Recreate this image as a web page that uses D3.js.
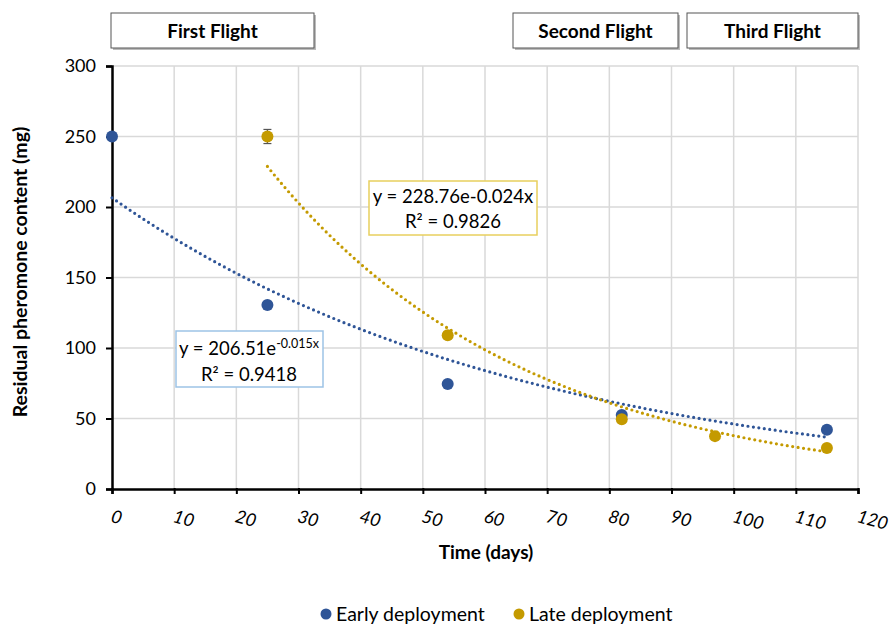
<!DOCTYPE html>
<html>
<head>
<meta charset="utf-8">
<script src="https://cdn.jsdelivr.net/npm/d3@7"></script>
<style>
  body { margin: 0; background: #fff; }
  text { font-family: Lato, "Open Sans", sans-serif; fill: #000; }
</style>
</head>
<body>
<script>
// Data
var earlyDays = [0, 25, 54, 82, 115];
var earlyMg   = [250, 130.5, 74.5, 52.5, 42];
var lateDays  = [25, 54, 82, 97, 115];
var lateMg    = [250, 109, 49.5, 37.5, 29];
var lateErr   = [5, 0, 0, 0, 0];

// Exponential trendlines as printed on the chart
var earlyFit = { a: 206.51, b: -0.015, start: 0 };
var lateFit  = { a: 228.76, b: -0.024, start: 25 };

var xTicks = [0, 10, 20, 30, 40, 50, 60, 70, 80, 90, 100, 110, 120];
var yTicks = [0, 50, 100, 150, 200, 250, 300];

var flights = [
  { label: 'First Flight',  x0: 111, x1: 314 },
  { label: 'Second Flight', x0: 513, x1: 678 },
  { label: 'Third Flight',  x0: 687, x1: 858 }
];

var blue = '#2F5597';
var gold = '#C49A00';

var width = 893, height = 626;
var svg = d3.select('body').append('svg')
  .attr('width', width)
  .attr('height', height);

var x = d3.scaleLinear().domain([0, 120]).range([112, 858]);
var y = d3.scaleLinear().domain([0, 300]).range([489, 66]);

// Grid
svg.append('g').selectAll('line').data(xTicks.slice(1)).enter().append('line')
  .attr('x1', d => x(d)).attr('x2', d => x(d))
  .attr('y1', y(0)).attr('y2', y(300))
  .attr('stroke', '#D9D9D9').attr('stroke-width', 1.5);
svg.append('g').selectAll('line').data(yTicks.slice(1)).enter().append('line')
  .attr('x1', x(0)).attr('x2', x(120))
  .attr('y1', d => y(d)).attr('y2', d => y(d))
  .attr('stroke', '#D9D9D9').attr('stroke-width', 1.5);

// Axes
var yAxis = svg.append('g')
  .attr('transform', 'translate(' + x(0) + ',0)')
  .call(d3.axisLeft(y).tickValues(yTicks).tickSize(6).tickPadding(10));
yAxis.select('.domain').attr('stroke', '#000').attr('stroke-width', 2.5);
yAxis.selectAll('.tick line').attr('stroke', '#000').attr('stroke-width', 2);
yAxis.selectAll('.tick text').style('font-size', '18px').style('font-family', 'Lato, sans-serif').attr('fill', '#000');

var xAxis = svg.append('g')
  .attr('transform', 'translate(0,' + y(0) + ')')
  .call(d3.axisBottom(x).tickValues(xTicks).tickSize(5).tickPadding(14));
xAxis.select('.domain').attr('stroke', '#000').attr('stroke-width', 2.5);
xAxis.selectAll('.tick line').attr('stroke', '#000').attr('stroke-width', 2).attr('y1', -1);
xAxis.selectAll('.tick text')
  .style('font-size', '18px').style('font-family', 'Lato, sans-serif')
  .style('font-style', 'italic').attr('fill', '#000')
  .attr('text-anchor', 'start')
  .attr('x', -1).attr('y', 33).attr('dy', 0)
  .attr('transform', 'rotate(15, -1, 27)');

// Axis titles
svg.append('text')
  .attr('x', 486).attr('y', 559)
  .attr('text-anchor', 'middle')
  .style('font-size', '19px').style('font-weight', 'bold')
  .text('Time (days)');
svg.append('text')
  .attr('transform', 'translate(27,272) rotate(-90)')
  .attr('text-anchor', 'middle')
  .style('font-size', '19.5px').style('font-weight', 'bold')
  .text('Residual pheromone content (mg)');

// Trendlines
function fitPoints(fit) {
  var pts = [];
  for (var t = fit.start; t <= 115; t += 1) {
    pts.push([t, fit.a * Math.exp(fit.b * (t - fit.start))]);
  }
  return pts;
}
var line = d3.line().x(d => x(d[0])).y(d => y(d[1])).curve(d3.curveMonotoneX);

svg.append('path').datum(fitPoints(earlyFit))
  .attr('d', line).attr('fill', 'none')
  .attr('stroke', blue).attr('stroke-width', 3.2)
  .attr('stroke-linecap', 'round').attr('stroke-dasharray', '0 5.5');
svg.append('path').datum(fitPoints(lateFit))
  .attr('d', line).attr('fill', 'none')
  .attr('stroke', gold).attr('stroke-width', 3.2)
  .attr('stroke-linecap', 'round').attr('stroke-dasharray', '0 5.5');

// Error bars
var lateData = lateDays.map((d, i) => ({ x: d, y: lateMg[i], e: lateErr[i] }));
var earlyData = earlyDays.map((d, i) => ({ x: d, y: earlyMg[i] }));

var eb = svg.append('g').selectAll('g').data(lateData.filter(d => d.e > 0)).enter().append('g')
  .attr('stroke', '#555').attr('stroke-width', 1.2);
eb.append('line').attr('x1', d => x(d.x)).attr('x2', d => x(d.x))
  .attr('y1', d => y(d.y + d.e)).attr('y2', d => y(d.y - d.e));
eb.append('line').attr('x1', d => x(d.x) - 4).attr('x2', d => x(d.x) + 4)
  .attr('y1', d => y(d.y + d.e)).attr('y2', d => y(d.y + d.e));
eb.append('line').attr('x1', d => x(d.x) - 4).attr('x2', d => x(d.x) + 4)
  .attr('y1', d => y(d.y - d.e)).attr('y2', d => y(d.y - d.e));

// Points
svg.append('g').selectAll('circle').data(earlyData).enter().append('circle')
  .attr('cx', d => x(d.x)).attr('cy', d => y(d.y)).attr('r', 6).attr('fill', blue);
svg.append('g').selectAll('circle').data(lateData).enter().append('circle')
  .attr('cx', d => x(d.x)).attr('cy', d => y(d.y)).attr('r', 6).attr('fill', gold);

// Equation labels
var lateBox = svg.append('g');
lateBox.append('rect').attr('x', 369).attr('y', 181).attr('width', 168).attr('height', 54)
  .attr('fill', '#fff').attr('stroke', '#E8CF5E').attr('stroke-width', 1.5);
lateBox.append('text').attr('x', 453).attr('y', 203).attr('text-anchor', 'middle')
  .style('font-size', '18.5px').text('y = 228.76e-0.024x');
lateBox.append('text').attr('x', 453).attr('y', 228).attr('text-anchor', 'middle')
  .style('font-size', '18.5px').text('R² = 0.9826');

var earlyBox = svg.append('g');
earlyBox.append('rect').attr('x', 176).attr('y', 331).attr('width', 147).attr('height', 56)
  .attr('fill', '#fff').attr('stroke', '#9DC3E6').attr('stroke-width', 1.5);
var eq = earlyBox.append('text').attr('x', 249).attr('y', 355).attr('text-anchor', 'middle')
  .style('font-size', '18.5px');
eq.append('tspan').text('y = 206.51e');
eq.append('tspan').attr('dy', -7).style('font-size', '12.5px').text('-0.015x');
earlyBox.append('text').attr('x', 249).attr('y', 381).attr('text-anchor', 'middle')
  .style('font-size', '18.5px').text('R² = 0.9418');

// Flight boxes
var fb = svg.append('g').selectAll('g').data(flights).enter().append('g');
fb.append('rect')
  .attr('x', d => d.x0 + 2).attr('y', 15).attr('width', d => d.x1 - d.x0).attr('height', 35)
  .attr('fill', '#bbb');
fb.append('rect')
  .attr('x', d => d.x0).attr('y', 13).attr('width', d => d.x1 - d.x0).attr('height', 35)
  .attr('fill', '#fff').attr('stroke', '#555').attr('stroke-width', 1);
fb.append('text')
  .attr('x', d => (d.x0 + d.x1) / 2).attr('y', 38).attr('text-anchor', 'middle')
  .style('font-size', '19px').style('font-weight', 'bold')
  .text(d => d.label);

// Legend
var legend = [
  { label: 'Early deployment', color: blue, x: 326 },
  { label: 'Late deployment', color: gold, x: 519 }
];
var lg = svg.append('g').selectAll('g').data(legend).enter().append('g');
lg.append('circle').attr('cx', d => d.x).attr('cy', 614).attr('r', 5.5).attr('fill', d => d.color);
lg.append('text').attr('x', d => d.x + 10).attr('y', 621)
  .style('font-size', '19.5px').text(d => d.label);
</script>
</body>
</html>
